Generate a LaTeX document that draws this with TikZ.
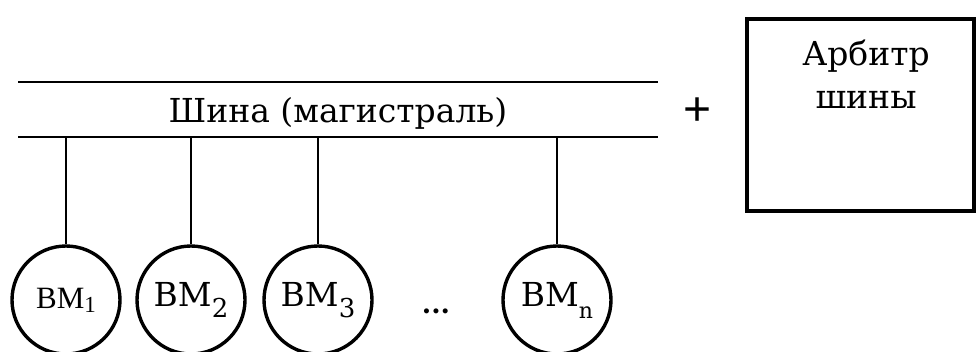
\documentclass[tikz,border=0pt]{standalone}
\usepackage{fontspec}
\setmainfont{DejaVu Serif}
\newfontfamily\timesfont{Liberation Serif}
\newfontfamily\plusfont{Liberation Sans}
\newcommand{\lowsub}[3]{\raisebox{-#1pt}{\fontsize{#2}{#2}\selectfont #3}}
\begin{document}
\begin{tikzpicture}[x=1pt,y=-1pt,
  bus/.style={line width=2pt},
  tap/.style={line width=1.6pt},
  vm/.style={circle, draw, line width=3.4pt, minimum size=108pt, inner sep=0pt,
             font=\fontsize{33}{36}\selectfont},
  arb/.style={draw, line width=3.5pt, inner sep=0pt},
  lbl/.style={font=\fontsize{33}{36}\selectfont, inner sep=0pt}]
\useasboundingbox (0,0) rectangle (976,351);
\begin{scope}
\clip (0,0) rectangle (976,351);

% bus (two parallel lines with the caption between them)
\coordinate (busTL) at (18,82);
\coordinate (busTR) at (658,82);
\coordinate (busBL) at (18,137);
\coordinate (busBR) at (658,137);
\draw[bus] (busTL) -- (busTR);
\draw[bus] (busBL) -- (busBR);
\node[lbl, anchor=base] (busname) at (338,122) {Шина (магистраль)};

% computers attached to the bus
\node[vm] (vm1) at (66,300) {{\timesfont\fontsize{31}{32}\selectfont ВМ\lowsub{4}{23}{1}}};
\node[vm] (vm2) at (191,300) {ВМ\lowsub{11}{26}{2}};
\node[vm] (vm3) at (318,300) {ВМ\lowsub{11}{26}{3}};
\node[vm] (vmn) at (557,300) {ВМ\lowsub{12}{22}{n}};
\node[font=\bfseries\fontsize{27}{27}\selectfont, inner sep=0pt] (dots) at (436,311) {...};

\foreach \v in {vm1,vm2,vm3,vmn}
  \draw[tap] (\v.north |- busBL) -- (\v.north);

% plus sign and the bus arbiter
\node[font=\plusfont\fontsize{48}{48}\selectfont, inner sep=0pt] (plus) at (698,112) {+};
\coordinate (arbNW) at (747,19);
\coordinate (arbSE) at (974,211);
\draw[arb] (arbNW) rectangle (arbSE);
\node[lbl, anchor=base] (arb1) at (866,65) {Арбитр};
\node[lbl, anchor=base] (arb2) at (866,108) {шины};
\end{scope}
\end{tikzpicture}
\end{document}
